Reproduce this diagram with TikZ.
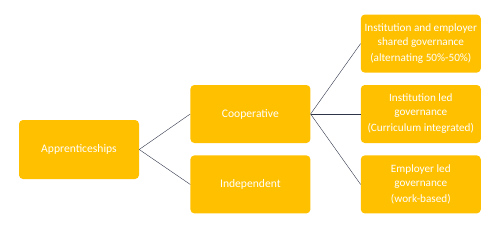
\documentclass[tikz,border=0pt]{standalone}
\usepackage{fontspec}
\setmainfont{Carlito}
\usepackage{xcolor}
\usetikzlibrary{positioning}
\definecolor{boxyellow}{HTML}{FFC000}
\definecolor{linkgray}{HTML}{2E3548}

\begin{document}
\begin{tikzpicture}[
  font=\fontsize{11.2}{13.5}\selectfont,
  box/.style={fill=boxyellow, rounded corners=4pt, minimum width=120pt, minimum height=58pt, inner sep=1pt, align=center, text=white},
  big/.style={font=\fontsize{11.6}{13.5}\selectfont},
  link/.style={draw=linkgray, thin},
  node distance=12pt and 50pt]
\useasboundingbox (0,0) rectangle (500pt,-234pt);
% root
\node[box, big, minimum height=59pt] (app) at (79pt,-149.5pt) {Apprenticeships};
% second level
\node[box, big, right=51pt of app, yshift=35.5pt] (coop) {Cooperative};
\node[box, big, below=of coop] (indep) {Independent};
% governance types
\node[box, right=of coop] (inst) {Institution led\\governance\\[3pt](Curriculum integrated)};
\node[box, above=of inst] (shared) {Institution and employer\\shared governance\\[3pt](alternating 50\%-50\%)};
\node[box, below=of inst] (empl) {Employer led\\governance\\[3pt](work-based)};
\draw[link] (app.east) -- (coop.west);
\draw[link] (app.east) -- (indep.west);
\draw[link] (coop.east) -- (shared.west);
\draw[link] (coop.east) -- (inst.west);
\draw[link] (coop.east) -- (empl.west);
\end{tikzpicture}
\end{document}
